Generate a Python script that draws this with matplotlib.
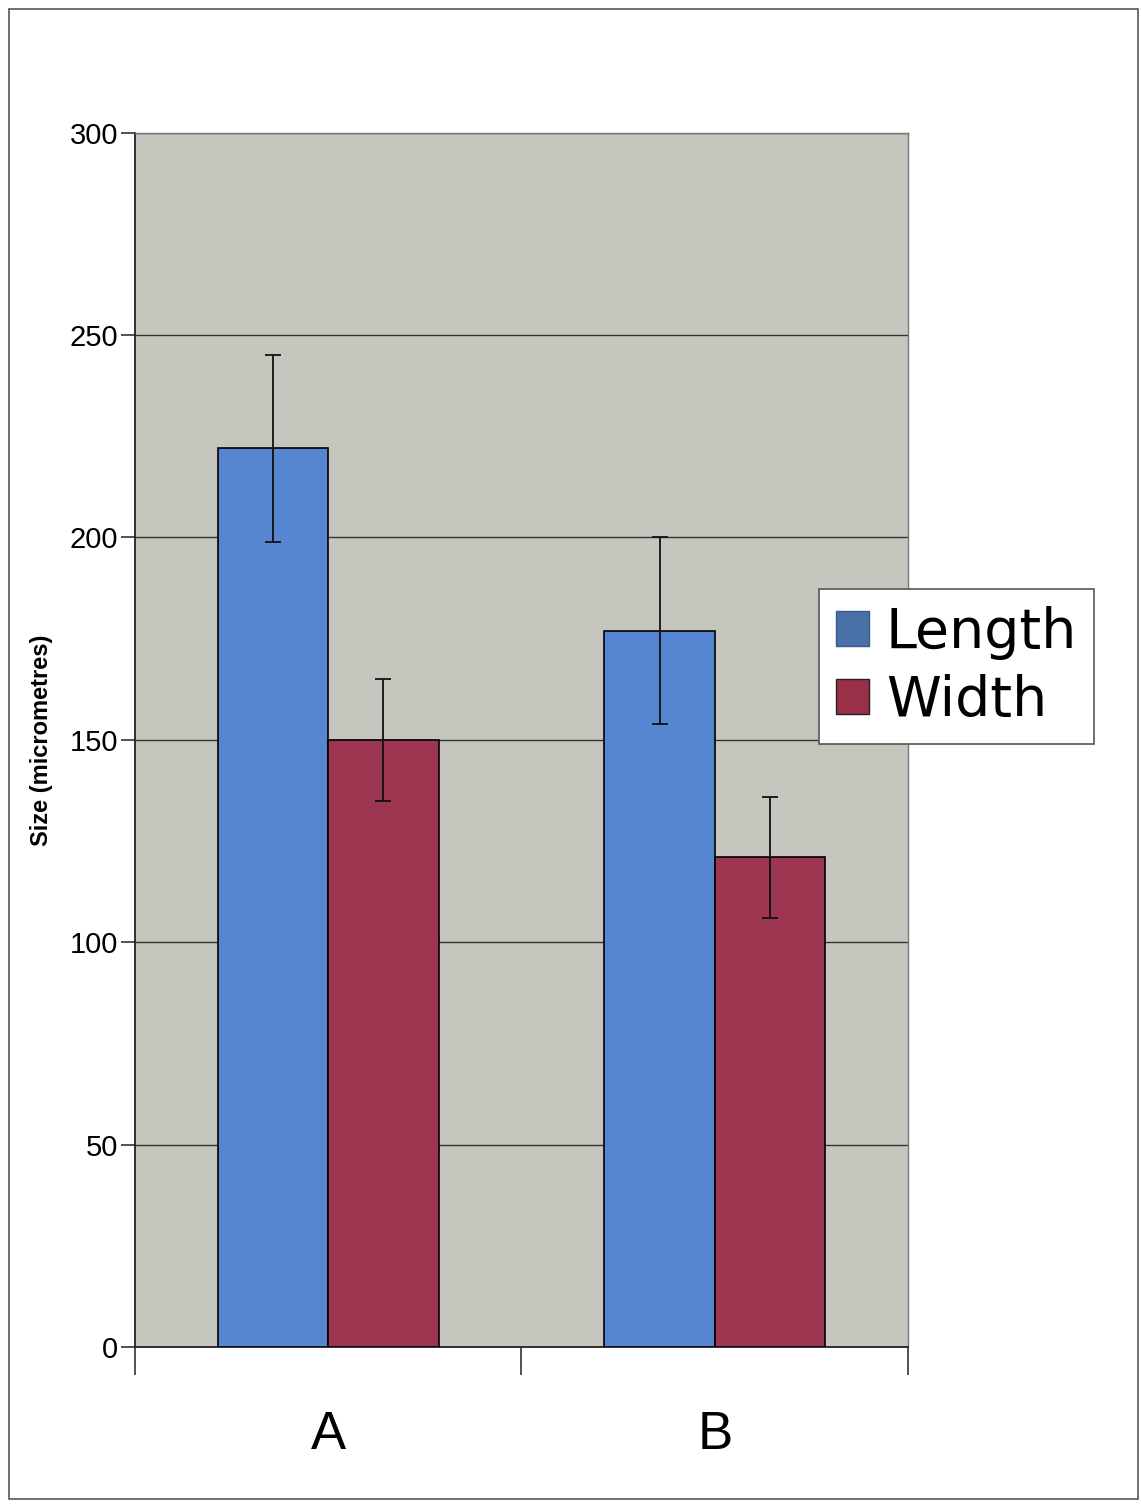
import matplotlib
matplotlib.use("Agg")
import matplotlib.pyplot as plt
from matplotlib.patches import Rectangle, Patch
import numpy as np

# Mean sizes with error bars (micrometres)
categories = ["A", "B"]
length_mean = [222, 177]
length_err = [23, 23]
width_mean = [150, 121]
width_err = [15, 15]
y_ticks = [0, 50, 100, 150, 200, 250, 300]

blue = "#5686d2"
red = "#9c3651"
plot_bg = "#c6c6be"

fig = plt.figure(figsize=(11.41, 15.07), dpi=100)
fig.patch.set_facecolor("white")

# Outer frame around the whole chart
fig.patches.append(Rectangle((0.008, 0.005), 0.989, 0.989, transform=fig.transFigure,
                             fill=False, edgecolor="#555555", linewidth=1.2))

ax = fig.add_axes([0.118, 0.106, 0.678, 0.806])
ax.set_facecolor(plot_bg)

x = np.arange(len(categories))
bw = 1 / 3.5
ax.bar(x - bw / 2, length_mean, width=bw, color=blue, edgecolor="black", linewidth=1.2,
       zorder=3, label="Length")
ax.bar(x + bw / 2, width_mean, width=bw, color=red, edgecolor="black", linewidth=1.2,
       zorder=3, label="Width")
ax.errorbar(x - bw / 2, length_mean, yerr=length_err, fmt="none", ecolor="#111111",
            elinewidth=1.3, capsize=6, capthick=1.3, zorder=4)
ax.errorbar(x + bw / 2, width_mean, yerr=width_err, fmt="none", ecolor="#111111",
            elinewidth=1.3, capsize=6, capthick=1.3, zorder=4)

ax.set_xlim(-0.5, len(categories) - 0.5)
ax.set_ylim(0, 300)
ax.set_yticks(y_ticks)
ax.set_yticklabels([str(v) for v in y_ticks], fontsize=21, family="Liberation Sans")
ax.yaxis.grid(True, color="#333333", linewidth=1.0, zorder=1)
ax.set_axisbelow(True)

# Category boundaries carry the tick marks; names sit in between
ax.set_xticks(np.arange(-0.5, len(categories)))
ax.set_xticklabels([])
ax.set_xticks(x, minor=True)
ax.set_xticklabels(categories, minor=True, fontsize=38, family="Liberation Sans")
ax.tick_params(axis="x", which="major", direction="out", length=20, width=1.2, color="#333333")
ax.tick_params(axis="x", which="minor", length=0, pad=45)
ax.tick_params(axis="y", direction="out", length=10, width=1.2, color="#333333", pad=2)

for side in ("left", "bottom"):
    ax.spines[side].set_color("#222222")
    ax.spines[side].set_linewidth(1.3)
for side in ("top", "right"):
    ax.spines[side].set_color("#777777")
    ax.spines[side].set_linewidth(1.0)

ax.set_ylabel("Size (micrometres)", fontsize=17, fontweight="bold",
              family="Liberation Sans")
ax.yaxis.set_label_coords(-0.105, 0.5)

handles = [Patch(facecolor="#4a70a8", edgecolor="#3a5a90"),
           Patch(facecolor="#9a2f48", edgecolor="#222222")]
leg = fig.legend(handles, ["Length", "Width"], loc="upper left",
                 bbox_to_anchor=(0.718, 0.609), fontsize=40, frameon=True,
                 fancybox=False, edgecolor="#555555", framealpha=1,
                 handlelength=0.6, handleheight=0.6, handletextpad=0.3,
                 borderpad=0.3, labelspacing=0.25, borderaxespad=0)
leg.get_frame().set_linewidth(1.2)

fig.savefig("out.png", dpi=100)
